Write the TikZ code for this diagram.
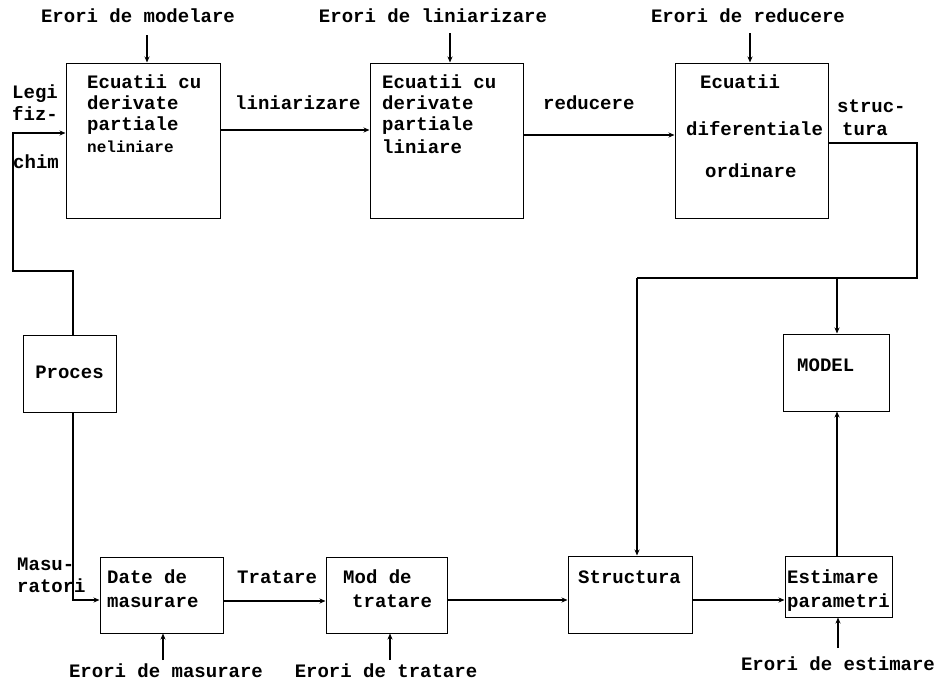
\documentclass[tikz,border=0pt]{standalone}
\usepackage{fontspec}
\setmainfont{Liberation Mono}
\usetikzlibrary{arrows.meta}
\begin{document}
\begin{tikzpicture}[x=1pt,y=-1pt,
  box/.style={draw,line width=1pt,inner sep=0pt},
  lbl/.style={font=\bfseries\fontsize{19}{19}\selectfont, inner sep=0pt, text height=11pt, text depth=0pt},
  sml/.style={font=\bfseries\fontsize{16}{16}\selectfont, inner sep=0pt, text height=9pt, text depth=0pt, anchor=west},
  lw/.style={lbl,anchor=west},
  arr/.style={line width=1.1pt,-{Stealth[length=6pt,width=5pt]}},
  ln/.style={line width=1.1pt}]
\fill[white] (0,0) rectangle (942,680);
\useasboundingbox (0,0) rectangle (942,680);

% boxes
\node[box, minimum width=154, minimum height=155] (b1) at (143,140.5) {};
\node[box, minimum width=153, minimum height=155] (b2) at (446.5,140.5) {};
\node[box, minimum width=153, minimum height=155] (b3) at (751.5,140.5) {};
\node[box, minimum width=93, minimum height=77] (pr) at (69.5,373.5) {};
\node[box, minimum width=106, minimum height=77] (mo) at (836,372.5) {};
\node[box, minimum width=123, minimum height=76] (dm) at (161.5,595) {};
\node[box, minimum width=121, minimum height=76] (md) at (386.5,595) {};
\node[box, minimum width=124, minimum height=77] (st) at (630,594.5) {};
\node[box, minimum width=107, minimum height=61] (es) at (838.5,586.5) {};

% texts in boxes
\node[lw] (b1a) at (87,83) {Ecuatii cu};
\node[lw] (b1b) at (87,104) {derivate};
\node[lw] (b1c) at (87,125) {partiale};
\node[sml] (b1d) at (87,148) {neliniare};
\node[lw] (b2a) at (382,83) {Ecuatii cu};
\node[lw] (b2b) at (382,104) {derivate};
\node[lw] (b2c) at (382,125) {partiale};
\node[lw] (b2d) at (382,148) {liniare};
\node[lw] (b3a) at (700,83) {Ecuatii};
\node[lw] (b3b) at (686,130) {diferentiale};
\node[lw] (b3c) at (705,172) {ordinare};
\node[lbl] (prt) at (69.5,373) {Proces};
\node[lw] (mot) at (797,366) {MODEL};
\node[lw] (dma) at (107,578) {Date de};
\node[lw] (dmb) at (107,602) {masurare};
\node[lw] (mda) at (343,578) {Mod de};
\node[lw] (mdb) at (352,602) {tratare};
\node[lw] (stt) at (578,578) {Structura};
\node[lw] (esa) at (787,578) {Estimare};
\node[lw] (esb) at (787,602) {parametri};

% error labels
\node[lbl] (e1t) at (138,17) {Erori de modelare};
\node[lbl] (e2t) at (433,17) {Erori de liniarizare};
\node[lbl] (e3t) at (748,17) {Erori de reducere};
\node[lbl] (e4t) at (166,672) {Erori de masurare};
\node[lbl] (e5t) at (386,672) {Erori de tratare};
\node[lbl] (e6t) at (838,665) {Erori de estimare};

% connector labels
\node[lw] (lg1) at (12,93) {Legi};
\node[lw] (lg2) at (12,115) {fiz-};
\node[lw] (lg3) at (13,163) {chim};
\node[lw] (lin) at (235,104) {liniarizare};
\node[lw] (red) at (543,104) {reducere};
\node[lw] (sc1) at (837,107) {struc-};
\node[lw] (sc2) at (842,130) {tura};
\node[lw] (ms1) at (17,565) {Masu-};
\node[lw] (ms2) at (17,587) {ratori};
\node[lw] (trt) at (237,578) {Tratare};

% error arrows
\coordinate (e1) at (147,35);
\coordinate (e2) at (450,33);
\coordinate (e3) at (750,33);
\coordinate (e4) at (163,660);
\coordinate (e5) at (390,660);
\coordinate (e6) at (838,648);
\draw[arr] (e1) -- (e1 |- b1.north);
\draw[arr] (e2) -- (e2 |- b2.north);
\draw[arr] (e3) -- (e3 |- b3.north);
\draw[arr] (e4) -- (e4 |- dm.south);
\draw[arr] (e5) -- (e5 |- md.south);
\draw[arr] (e6) -- (e6 |- es.south);

% top chain
\coordinate (y1) at (0,130);
\coordinate (y2) at (0,135);
\draw[arr] (y1 -| b1.east) -- (y1 -| b2.west);
\draw[arr] (y2 -| b2.east) -- (y2 -| b3.west);

% process feedback to box1
\coordinate (p1) at (73,271);
\coordinate (p2) at (13,271);
\coordinate (p3) at (13,133);
\draw[arr] (p1 |- pr.north) -- (p1) -- (p2) -- (p3) -- (p3 -| b1.west);

% process to measured data
\coordinate (q1) at (73,600);
\draw[arr] (q1 |- pr.south) -- (q1) -- (q1 -| dm.west);

% bottom chain
\coordinate (y3) at (0,601);
\coordinate (y4) at (0,600);
\draw[arr] (y3 -| dm.east) -- (y3 -| md.west);
\draw[arr] (y4 -| md.east) -- (y4 -| st.west);
\draw[arr] (y4 -| st.east) -- (y4 -| es.west);

% structure feed
\coordinate (s1) at (917,143);
\coordinate (s2) at (917,278);
\coordinate (s3) at (637,278);
\coordinate (s4) at (837,278);
\draw[ln] (s1 -| b3.east) -- (s1) -- (s2) -- (s3);
\draw[arr] (s3) -- (s3 |- st.north);
\draw[arr] (s4) -- (s4 |- mo.north);
\draw[arr] (s4 |- es.north) -- (s4 |- mo.south);
\end{tikzpicture}
\end{document}
